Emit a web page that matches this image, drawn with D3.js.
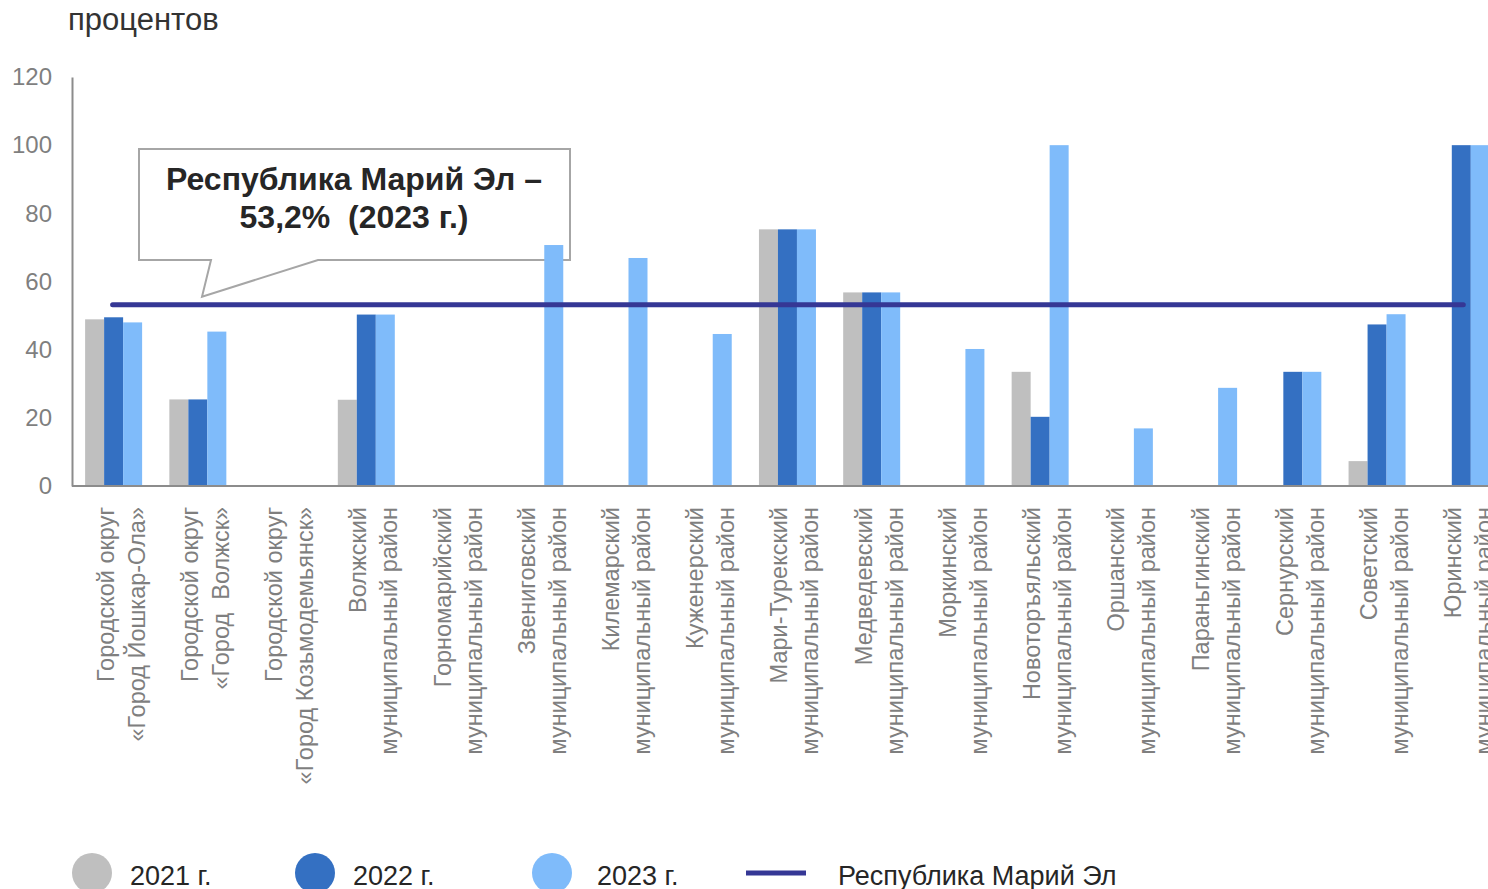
<!DOCTYPE html>
<html>
<head>
<meta charset="utf-8">
<title>Доля, процентов</title>
<script src="https://d3js.org/d3.v7.min.js"></script>
<style>
  body, html {
    margin: 0;
    padding: 0;
    background: #fff;
    overflow: hidden;
  }
  svg {
    display: block;
    font-family: "Liberation Sans", Arial, sans-serif;
  }
</style>
</head>
<body>
<svg id="chart" width="1488" height="889"></svg>

<script>
// Municipalities (two lines per label)
const categories = [
  ["Городской округ", "«Город Йошкар-Ола»"],
  ["Городской округ", "«Город  Волжск»"],
  ["Городской округ", "«Город Козьмодемьянск»"],
  ["Волжский", "муниципальный район"],
  ["Горномарийский", "муниципальный район"],
  ["Звениговский", "муниципальный район"],
  ["Килемарский", "муниципальный район"],
  ["Куженерский", "муниципальный район"],
  ["Мари-Турекский", "муниципальный район"],
  ["Медведевский", "муниципальный район"],
  ["Моркинский", "муниципальный район"],
  ["Новоторъяльский", "муниципальный район"],
  ["Оршанский", "муниципальный район"],
  ["Параньгинский", "муниципальный район"],
  ["Сернурский", "муниципальный район"],
  ["Советский", "муниципальный район"],
  ["Юринский", "муниципальный район"]
];

const years = ["2021 г.", "2022 г.", "2023 г."];

// Values, percent (0 = no bar)
const values2021 = [48.9, 25.4, 0, 25.3, 0, 0, 0, 0, 75.3, 56.8, 0, 33.5, 0, 0, 0, 7.3, 0];
const values2022 = [49.5, 25.4, 0, 50.3, 0, 0, 0, 0, 75.3, 56.8, 0, 20.3, 0, 0, 33.5, 47.4, 100];
const values2023 = [48.0, 45.3, 0, 50.3, 0, 70.7, 66.9, 44.6, 75.3, 56.8, 40.2, 100, 16.9, 28.8, 33.5, 50.4, 100];

const republicValue = 53.2;
const yTicks = [0, 20, 40, 60, 80, 100, 120];

const colors = ["#bfbfbf", "#3470c2", "#7fbbfa"];
const lineColor = "#353795";

const svg = d3.select("#chart");

// Scales
const x0 = d3.scaleBand()
    .domain(d3.range(categories.length))
    .range([71.5, 71.5 + 84.23 * categories.length])
    .padding(0);

const barW = 19;
const x1 = d3.scaleBand()
    .domain(years)
    .range([x0.bandwidth() / 2 - 1.5 * barW, x0.bandwidth() / 2 + 1.5 * barW]);

const y = d3.scaleLinear()
    .domain([0, 120])
    .range([486, 77]);

const xc = i => x0(i) + x0.bandwidth() / 2;

// Unit title
svg.append("text")
    .attr("x", 68)
    .attr("y", 30)
    .style("font-size", "31px")
    .style("fill", "#333")
    .text("процентов");

// Y axis
const yAxis = svg.append("g")
    .attr("transform", "translate(72,0)")
    .call(d3.axisLeft(y).tickValues(yTicks).tickSize(0).tickPadding(20));

yAxis.select(".domain").attr("stroke", "#8c8c8c").attr("stroke-width", 2);
yAxis.selectAll("text")
    .style("font-size", "24px")
    .style("font-family", "'Liberation Sans', Arial, sans-serif")
    .style("fill", "#7f7f7f");

// Callout (drawn under the bars)
const cb = { x0: 139, x1: 570, y0: 149, y1: 260 };
const tip = [202, y(republicValue) - 8];
const callout = d3.path();
callout.moveTo(cb.x0, cb.y0);
callout.lineTo(cb.x1, cb.y0);
callout.lineTo(cb.x1, cb.y1);
callout.lineTo(318, cb.y1);
callout.lineTo(tip[0], tip[1]);
callout.lineTo(211, cb.y1);
callout.lineTo(cb.x0, cb.y1);
callout.closePath();

svg.append("path")
    .attr("d", callout.toString())
    .attr("fill", "#fff")
    .attr("stroke", "#a6a6a6")
    .attr("stroke-width", 2);

const calloutText = svg.append("text")
    .attr("text-anchor", "middle")
    .style("font-size", "32px")
    .style("font-weight", "bold")
    .style("fill", "#262626")
    .style("white-space", "pre");

calloutText.append("tspan")
    .attr("x", 354)
    .attr("y", 190)
    .text("Республика Марий Эл –");

calloutText.append("tspan")
    .attr("x", 354)
    .attr("y", 228)
    .text("53,2%  (2023 г.)");

// Bars
const series = [values2021, values2022, values2023];
years.forEach((yr, s) => {
  svg.append("g").selectAll("rect")
      .data(series[s].map((v, i) => ({ i: i, v: v })).filter(d => d.v > 0))
    .join("rect")
      .attr("x", d => x0(d.i) + x1(yr))
      .attr("y", d => y(d.v))
      .attr("width", x1.bandwidth())
      .attr("height", d => y(0) - y(d.v))
      .attr("fill", colors[s]);
});

// X axis line
svg.append("line")
    .attr("x1", 72)
    .attr("x2", 1488)
    .attr("y1", y(0))
    .attr("y2", y(0))
    .attr("stroke", "#8c8c8c")
    .attr("stroke-width", 2);

// Republic line
svg.append("line")
    .attr("x1", xc(0) - 1)
    .attr("x2", xc(categories.length - 1) + 2)
    .attr("y1", y(republicValue))
    .attr("y2", y(republicValue))
    .attr("stroke", lineColor)
    .attr("stroke-width", 5)
    .attr("stroke-linecap", "round");

// Category labels, rotated
const labels = svg.append("g").selectAll("text")
    .data(categories)
  .join("text")
    .attr("transform", (d, i) => "translate(" + xc(i) + ",507)rotate(-90)")
    .attr("text-anchor", "end")
    .style("font-size", "23.5px")
    .style("fill", "#7f7f7f")
    .style("white-space", "pre");

labels.selectAll("tspan")
    .data(d => d)
  .join("tspan")
    .attr("x", 0)
    .attr("y", (d, k) => k * 31)
    .text(d => d);

// Legend
const legendY = 873;
const legendX = [92, 315, 552];
const legendTextX = [130, 353, 597];

const leg = svg.append("g").selectAll("g")
    .data(years)
  .join("g");

leg.append("circle")
    .attr("cx", (d, i) => legendX[i])
    .attr("cy", legendY)
    .attr("r", 20)
    .attr("fill", (d, i) => colors[i]);

leg.append("text")
    .attr("x", (d, i) => legendTextX[i])
    .attr("y", legendY + 12)
    .style("font-size", "27px")
    .style("fill", "#262626")
    .text(d => d);

svg.append("line")
    .attr("x1", 746)
    .attr("x2", 806)
    .attr("y1", legendY)
    .attr("y2", legendY)
    .attr("stroke", lineColor)
    .attr("stroke-width", 5);

svg.append("text")
    .attr("x", 838)
    .attr("y", legendY + 12)
    .style("font-size", "27px")
    .style("fill", "#262626")
    .text("Республика Марий Эл");
</script>
</body>
</html>
